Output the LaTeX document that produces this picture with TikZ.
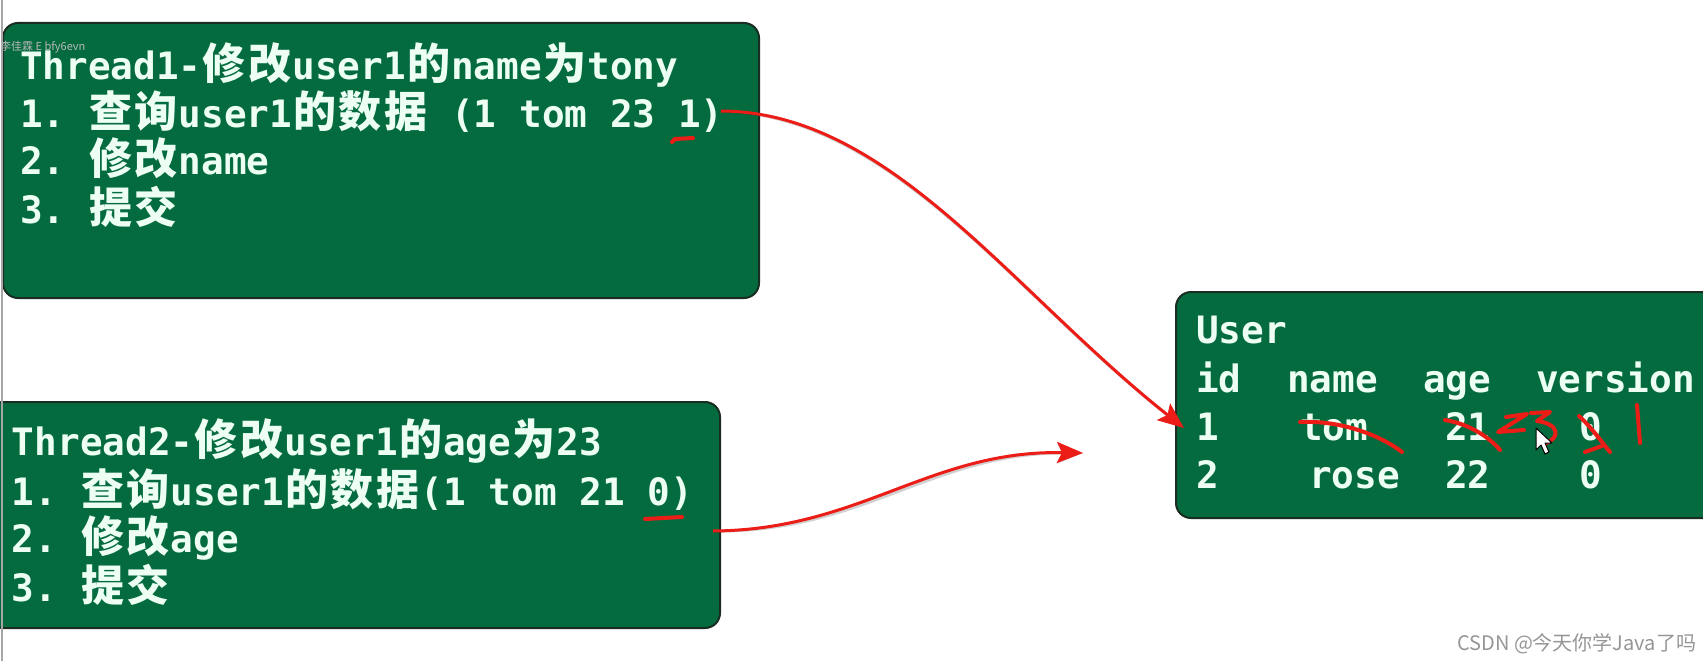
\documentclass[tikz,border=0pt]{standalone}
\usepackage{fontspec}
\setmonofont{DejaVu Sans Mono}
\newfontfamily\cjk[Scale=1.14]{Noto Sans CJK SC}
\newfontfamily\wmfont{Noto Sans CJK SC}
\usetikzlibrary{arrows.meta}
\definecolor{boxgreen}{RGB}{4,107,62}
\definecolor{boxline}{RGB}{25,45,35}
\definecolor{txtc}{RGB}{236,255,242}
\definecolor{redpen}{RGB}{236,28,22}
\definecolor{wmgray}{RGB}{150,150,150}
\newlength\cellw
\setlength\cellw{45.4pt}
\def\CJ#1{\CJx#1\relax}
\def\CJx#1{\ifx#1\relax\else\hbox to \cellw{\hss\cjk\bfseries #1\hss}\expandafter\CJx\fi}
\tikzset{
  greenbox/.style={draw=boxline, line width=2pt, fill=boxgreen, rounded corners=15pt,
    anchor=north west, inner sep=0pt, outer sep=0pt},
  mono/.style={anchor=base west, inner sep=0pt, outer sep=0pt, text=txtc,
    font=\fontsize{37.7}{40}\selectfont\ttfamily\bfseries},
  redarrow/.style={draw=redpen, line width=3pt, -{Stealth[length=26pt,width=21pt,inset=5pt]}},
  arrowshadow/.style={draw=black, opacity=0.18, line width=3pt, -{Stealth[length=26pt,width=21pt,inset=5pt]}},
  pen/.style={draw=redpen, line width=4pt, line cap=round, line join=round},
}
\begin{document}
\begin{tikzpicture}[x=1pt,y=-1pt]
\path[use as bounding box, fill=white] (0,0) rectangle (1703,661);
\clip (0,0) rectangle (1703,661);

% boxes
\node[greenbox, minimum width=756pt, minimum height=275pt] (b1) at (3,23) {};
\node[greenbox, minimum width=732pt, minimum height=226pt] (b2) at (-12,402) {};
\node[greenbox, minimum width=560pt, minimum height=226pt] (b3) at (1176,292) {};

% left gray screen line
\draw[gray!70, line width=2pt] (2,0) -- (2,661);

% faint watermark
\node[anchor=base west, inner sep=0pt, text=gray!55, font=\wmfont\fontsize{11}{11}\selectfont] (wm1) at (0,51) {李佳霖 E bfy6evn};

% box 1 text
\node[mono] (t11) at (20,79) {Thread1-\CJ{修改}user1\CJ{的}name\CJ{为}tony};
\node[mono] (t12) at (20,127) {1.\ \CJ{查询}user1\CJ{的数据} (1 tom 23 1)};
\node[mono] (t13) at (20,174) {2.\ \CJ{修改}name};
\node[mono] (t14) at (20,223) {3.\ \CJ{提交}};

% box 2 text
\node[mono] (t21) at (12,455) {Thread2-\CJ{修改}user1\CJ{的}age\CJ{为}23};
\node[mono] (t22) at (12,505) {1.\ \CJ{查询}user1\CJ{的数据}(1 tom 21 0)};
\node[mono] (t23) at (12,552) {2.\ \CJ{修改}age};
\node[mono] (t24) at (12,601) {3.\ \CJ{提交}};

% user table
\node[mono] (u0) at (1196,343) {User};
\node[mono] (uh1) at (1196,392) {id};
\node[mono] (uh2) at (1287,392) {name};
\node[mono] (uh3) at (1423,392) {age};
\node[mono] (uh4) at (1536,392) {version};
\node[mono] (r11) at (1196,440) {1};
\node[mono] (r12) at (1300,440) {tom};
\node[mono] (r13) at (1445,440) {21};
\node[mono] (r14) at (1579,440) {0};
\node[mono] (r21) at (1196,488) {2};
\node[mono] (r22) at (1309,488) {rose};
\node[mono] (r23) at (1445,488) {22};
\node[mono] (r24) at (1579,488) {0};

% arrow anchor coordinates
\coordinate (a1s) at (721,111);
\coordinate (a1e) at (1184,428);
\coordinate (a2s) at (713,531);
\coordinate (a2e) at (1083,453);

% arrows with soft shadow
\begin{scope}[xshift=2pt,yshift=-3pt]
\draw[arrowshadow] (a1s) .. controls (890,112) and (1010,290) .. (a1e);
\draw[arrowshadow] (a2s) .. controls (860,530) and (930,450) .. (a2e);
\end{scope}
\draw[redarrow] (a1s) .. controls (890,112) and (1010,290) .. (a1e);
\draw[redarrow] (a2s) .. controls (860,530) and (930,450) .. (a2e);

% hand-drawn marks
\draw[pen] (672,142) -- (675,139) -- (693,138);
\draw[pen] (645,519) -- (682,517);
\draw[pen] (1300,422) .. controls (1340,420) and (1380,435) .. (1402,452);
\draw[pen] (1445,420) .. controls (1470,424) and (1490,438) .. (1500,450);
\draw[pen] (1506,417) -- (1527,414) -- (1498,432) -- (1524,430);
\draw[pen] (1531,413) -- (1550,412) -- (1537,421) .. controls (1560,424) and (1560,438) .. (1546,443);
\draw[pen] (1579,416) .. controls (1592,428) and (1600,440) .. (1610,452);
\draw[pen] (1585,452) -- (1602,446);
\draw[pen] (1637,405) -- (1640,443);

% mouse cursor
\draw[fill=white, draw=black, line width=1pt, line join=round]
  (1536,428) -- (1536,450) -- (1541,445) -- (1545,454) -- (1549,452) -- (1545,443) -- (1552,443) -- cycle;

% CSDN watermark
\node[anchor=base west, inner sep=0pt, text=wmgray, font=\wmfont\fontsize{20}{20}\selectfont] (csdn) at (1457,650) {CSDN @今天你学Java了吗};
\end{tikzpicture}
\end{document}
